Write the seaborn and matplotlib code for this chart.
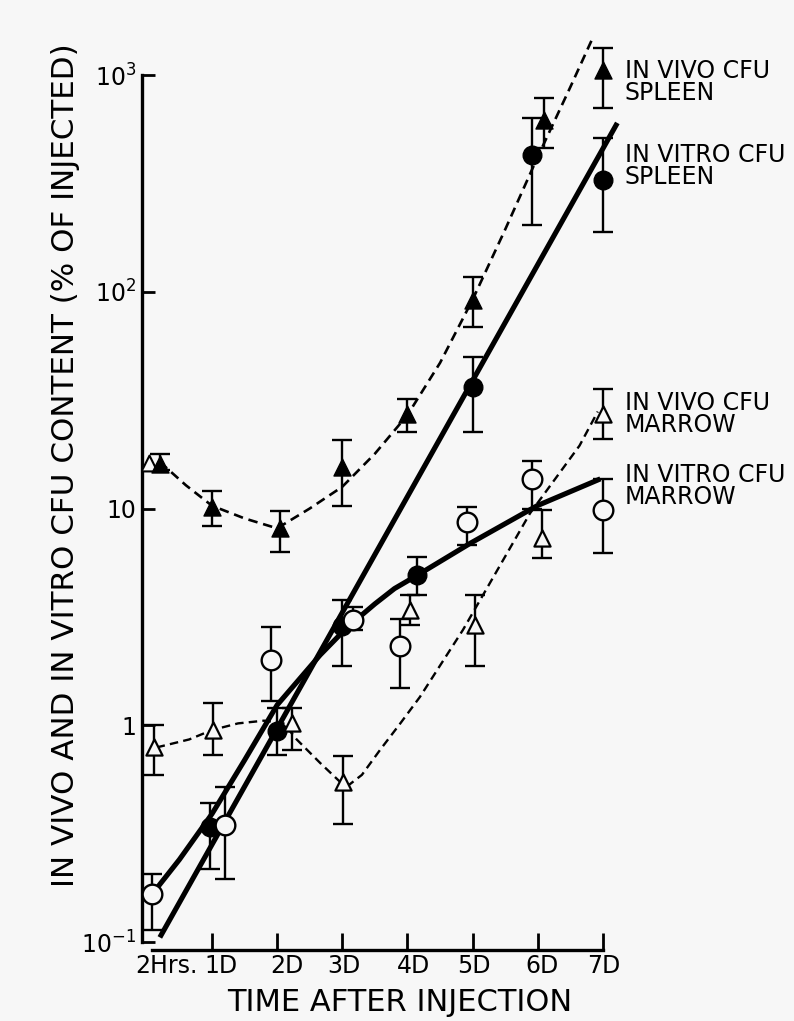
import numpy as np
import matplotlib
matplotlib.use("Agg")
import matplotlib.pyplot as plt
import matplotlib.transforms as mtransforms
from matplotlib.ticker import NullLocator
import seaborn as sns

# ---------------- data (days after injection, % of injected) ----------------
x_ticks = [2 / 24, 1, 2, 3, 4, 5, 6, 7]
x_tick_labels = ["2Hrs.", "1D", "2D", "3D", "4D", "5D", "6D", "7D"]
y_ticks = [0.1, 1, 10, 100, 1000]
y_tick_labels = [r"$10^{-1}$", "1", "10", r"$10^{2}$", r"$10^{3}$"]

# in vivo CFU, spleen (filled triangles)
vivo_spl_x = [0.2, 1.0, 2.05, 3.0, 4.0, 5.0, 6.1, 7.0]
vivo_spl_y = [16.1, 10.2, 8.1, 15.5, 27.4, 92, 621, 1054]
vivo_spl_lo = [15.0, 8.3, 6.3, 10.3, 22.6, 69, 461, 705]
vivo_spl_hi = [17.9, 12.1, 9.7, 20.6, 32, 117, 783, 1330]
vivo_spl_fit_x = [0.2, 0.6, 1.0, 1.5, 2.0, 2.5, 3.0, 3.5, 4.0, 4.5, 5.0, 5.5, 6.0, 6.5, 6.85]
vivo_spl_fit_y = [16.4, 12.8, 10.3, 9.0, 8.1, 10.0, 12.6, 17.9, 27, 47, 92, 194, 420, 881, 1500]

# in vitro CFU, spleen (filled circles)
vitro_spl_x = [0.97, 2.0, 3.0, 4.15, 5.0, 5.91, 7.0]
vitro_spl_y = [0.338, 0.944, 2.87, 4.92, 36.4, 429, 329]
vitro_spl_lo = [0.217, 0.73, 1.88, 4.0, 22.6, 204, 188]
vitro_spl_hi = [0.44, 1.2, 3.8, 6.0, 50, 634, 513]
vitro_spl_fit_x = [0.2, 7.22]
vitro_spl_fit_y = [0.105, 601]

# in vivo CFU, marrow (open triangles)
vivo_mar_x = [0.11, 1.01, 2.23, 3.01, 4.04, 5.04, 6.07, 7.0]
vivo_mar_y = [0.79, 0.95, 1.02, 0.545, 3.4, 2.9, 7.3, 27.4]
vivo_mar_lo = [0.59, 0.73, 0.77, 0.35, 2.9, 1.88, 5.9, 21]
vivo_mar_hi = [1.0, 1.27, 1.2, 0.72, 4.0, 4.0, 9.8, 35.6]
vivo_mar_fit_x = [0.15, 0.65, 1.0, 1.4, 1.8, 2.1, 2.3, 2.66, 2.96, 3.1, 3.3, 3.58,
                  3.89, 4.19, 4.85, 5.88, 6.64, 6.92]
vivo_mar_fit_y = [0.79, 0.86, 0.95, 1.02, 1.05, 1.02, 0.86, 0.67, 0.55, 0.53, 0.59, 0.77,
                  1.02, 1.35, 2.75, 9.5, 19.5, 28]

# in vitro CFU, marrow (open circles)
vitro_mar_x = [0.08, 1.2, 1.9, 3.16, 3.89, 4.92, 5.91, 7.0]
vitro_mar_y = [0.166, 0.345, 2.0, 3.05, 2.32, 8.7, 13.7, 9.8]
vitro_mar_lo = [0.114, 0.195, 1.3, 2.75, 1.49, 6.8, 10.0, 6.2]
vitro_mar_hi = [0.206, 0.52, 2.84, 3.5, 3.1, 10.2, 16.6, 13.7]
vitro_mar_fit_x = [0.08, 0.5, 1.0, 1.5, 2.0, 2.66, 3.07, 3.5, 3.8, 4.15, 4.96, 5.99, 6.96]
vitro_mar_fit_y = [0.166, 0.24, 0.39, 0.69, 1.24, 2.11, 2.82, 3.63, 4.27, 4.92, 6.9, 10.3, 13.7]

# stray open triangle drawn under the first spleen point
extra_open_tri_x = [0.03]
extra_open_tri_y = [16.3]

series_labels = ["IN VIVO CFU\nSPLEEN", "IN VITRO CFU\nSPLEEN",
                 "IN VIVO CFU\nMARROW", "IN VITRO CFU\nMARROW"]
x_title = "TIME AFTER INJECTION"
y_title = "IN VIVO AND IN VITRO CFU CONTENT (% OF INJECTED)"

# ---------------- styling ----------------
sns.set_theme(style="white")
plt.rcParams["font.family"] = ["DejaVu Sans"]
plt.rcParams["mathtext.fontset"] = "dejavusans"

W, H = 794, 1021
BG = "#f7f7f7"
fig = plt.figure(figsize=(W / 100, H / 100), dpi=100)
fig.patch.set_facecolor(BG)

L, R, T, B = 142, 640, 30, 950          # axes box in pixels
day0, day_px = 146.8, 65.17             # x pixel mapping
y3_px, dec_px = 75, 216.75              # y pixel mapping (10^3 at y3_px)
ax = fig.add_axes([L / W, 1 - B / H, (R - L) / W, (B - T) / H])
ax.set_facecolor("none")
ax.set_yscale("log")
ax.set_xlim((L - day0) / day_px, (R - day0) / day_px)
ax.set_ylim(10 ** (3 - (B - y3_px) / dec_px), 10 ** (3 + (y3_px - T) / dec_px))

thick = 3.7
dash = (0, (3.6, 2.2))

# fitted curves
sns.lineplot(x=vitro_spl_fit_x, y=vitro_spl_fit_y, ax=ax, color="black", lw=thick,
             sort=False, estimator=None, zorder=2, solid_capstyle="butt")
sns.lineplot(x=vitro_mar_fit_x, y=vitro_mar_fit_y, ax=ax, color="black", lw=thick,
             sort=False, estimator=None, zorder=2, solid_capstyle="butt",
             solid_joinstyle="round")
sns.lineplot(x=vivo_spl_fit_x, y=vivo_spl_fit_y, ax=ax, color="black", lw=1.9,
             linestyle=dash, sort=False, estimator=None, zorder=2)
sns.lineplot(x=vivo_mar_fit_x, y=vivo_mar_fit_y, ax=ax, color="black", lw=1.7,
             linestyle=dash, sort=False, estimator=None, zorder=2)

# error bars
for xs, ys, lo, hi in [(vivo_spl_x, vivo_spl_y, vivo_spl_lo, vivo_spl_hi),
                       (vitro_spl_x, vitro_spl_y, vitro_spl_lo, vitro_spl_hi),
                       (vivo_mar_x, vivo_mar_y, vivo_mar_lo, vivo_mar_hi),
                       (vitro_mar_x, vitro_mar_y, vitro_mar_lo, vitro_mar_hi)]:
    ys_a = np.array(ys)
    err = [ys_a - np.array(lo), np.array(hi) - ys_a]
    ax.errorbar(xs, ys, yerr=err, fmt="none", ecolor="black", elinewidth=1.7,
                capsize=7.5, capthick=1.7, zorder=3)

# markers
sns.scatterplot(x=extra_open_tri_x, y=extra_open_tri_y, ax=ax, marker="^", s=130,
                color=BG, edgecolor="black", linewidth=1.5, zorder=4)
sns.scatterplot(x=vivo_spl_x, y=vivo_spl_y, ax=ax, marker="^", s=150,
                color="black", edgecolor="black", linewidth=1, zorder=5)
sns.scatterplot(x=vitro_spl_x, y=vitro_spl_y, ax=ax, marker="o", s=180,
                color="black", edgecolor="black", linewidth=1, zorder=5)
sns.scatterplot(x=vivo_mar_x, y=vivo_mar_y, ax=ax, marker="^", s=135,
                color=BG, edgecolor="black", linewidth=1.6, zorder=5)
sns.scatterplot(x=vitro_mar_x, y=vitro_mar_y, ax=ax, marker="o", s=200,
                color=BG, edgecolor="black", linewidth=1.7, zorder=5)

# axes / spines
for s in ["top", "right"]:
    ax.spines[s].set_visible(False)
for s in ["left", "bottom"]:
    ax.spines[s].set_linewidth(2.4)
    ax.spines[s].set_color("black")
ax.spines["left"].set_bounds(y_ticks[0], y_ticks[-1])
ax.spines["bottom"].set_bounds(x_ticks[0], x_ticks[-1])

ax.set_yticks(y_ticks)
ax.set_yticklabels(y_tick_labels)
ax.yaxis.set_minor_locator(NullLocator())
ax.set_xticks(x_ticks)
ax.set_xticklabels(x_tick_labels)
ax.tick_params(axis="y", direction="in", length=9.5, width=2, pad=4,
               labelsize=17, colors="black", left=True)
ax.tick_params(axis="x", direction="in", length=12, width=2, pad=3,
               labelsize=17, colors="black", bottom=True)
ax.xaxis.get_major_ticks()[0].tick1line.set_visible(False)
label_shift_px = [14, 9, 10, 2, 6, 1, 4, 1]
for lab, dx in zip(ax.get_xticklabels(), label_shift_px):
    lab.set_transform(lab.get_transform() +
                      mtransforms.ScaledTranslation(dx / 100, 0, fig.dpi_scale_trans))
ax.set_xlabel("")
ax.set_ylabel("")
ax.grid(False)


def px(x, y):
    return x / W, 1 - y / H


fig.text(*px(400, 1002), x_title, ha="center", va="center", fontsize=22, color="black")
fig.text(*px(66, 465), y_title, ha="center", va="center", rotation=90,
         fontsize=22.3, color="black")

label_centers = [82, 166, 414, 486]
for text, yc in zip(series_labels, label_centers):
    fig.text(*px(625, yc), text, ha="left", va="center", fontsize=17,
             linespacing=0.92, color="black")

fig.savefig("out.png", dpi=100, facecolor=BG)
